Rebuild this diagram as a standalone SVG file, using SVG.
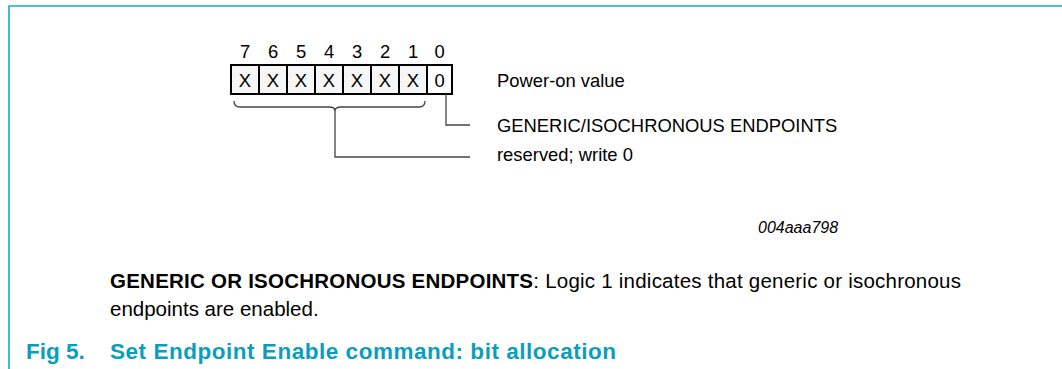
<svg xmlns="http://www.w3.org/2000/svg" width="1062" height="369" viewBox="0 0 1062 369">
<style>
.t{font-family:"Liberation Sans",Arial,sans-serif;font-size:18.4px;fill:#000}
.c{text-anchor:middle}
.cell{stroke:#000;stroke-width:2}
.x{fill:#f6f6f6}
.z{fill:#fff}
.ln{fill:none;stroke:#444;stroke-width:1.3}
.b{font-family:"Liberation Sans",Arial,sans-serif;font-size:20.5px;fill:#000}
.ttl{font-family:"Liberation Sans",Arial,sans-serif;font-size:22.5px;font-weight:bold;fill:#0a9ebd}
</style>
<rect width="1062" height="369" fill="#fff"/>
<path d="M9,369 V6 H1062" fill="none" stroke="#14aac8" stroke-width="1.6"/>
<g id="register">
<rect class="cell x" x="231" y="65" width="28" height="29"/>
<rect class="cell x" x="259" y="65" width="28" height="29"/>
<rect class="cell x" x="287" y="65" width="28" height="29"/>
<rect class="cell x" x="315" y="65" width="28" height="29"/>
<rect class="cell x" x="343" y="65" width="28" height="29"/>
<rect class="cell x" x="371" y="65" width="28" height="29"/>
<rect class="cell x" x="399" y="65" width="28" height="29"/>
<rect class="cell z" x="427" y="65" width="25" height="29"/>
<text class="t c" x="245" y="58">7</text>
<text class="t c" x="273" y="58">6</text>
<text class="t c" x="301" y="58">5</text>
<text class="t c" x="329" y="58">4</text>
<text class="t c" x="357" y="58">3</text>
<text class="t c" x="385" y="58">2</text>
<text class="t c" x="413" y="58">1</text>
<text class="t c" x="439.5" y="58">0</text>
<text class="t c" x="245" y="87">X</text>
<text class="t c" x="273" y="87">X</text>
<text class="t c" x="301" y="87">X</text>
<text class="t c" x="329" y="87">X</text>
<text class="t c" x="357" y="87">X</text>
<text class="t c" x="385" y="87">X</text>
<text class="t c" x="413" y="87">X</text>
<text class="t c" x="439.5" y="87">0</text>
</g>
<g id="connectors">
<path class="ln" d="M234,101 Q234,107 240,107 L329,107 Q335,107 335,111 Q335,107 341,107 L419,107 Q425,107 425,101"/>
<path class="ln" d="M335,111 V157 H470"/>
<path class="ln" d="M446,94 V125 H470"/>
</g>
<g id="labels">
<text class="t" x="497" y="87">Power-on value</text>
<text class="t" x="497" y="132">GENERIC/ISOCHRONOUS ENDPOINTS</text>
<text class="t" x="497" y="161">reserved; write 0</text>
<text class="t" x="758" y="233" style="font-style:italic;font-size:16px">004aaa798</text>
</g>
<g id="description">
<text class="b" x="110" y="288" textLength="851"><tspan font-weight="bold">GENERIC OR ISOCHRONOUS ENDPOINTS</tspan>: Logic 1 indicates that generic or isochronous</text>
<text class="b" x="110" y="316">endpoints are enabled.</text>
</g>
<g id="title">
<text class="ttl" x="26" y="359">Fig 5.</text>
<text class="ttl" x="110" y="359" textLength="506">Set Endpoint Enable command: bit allocation</text>
</g>
</svg>
